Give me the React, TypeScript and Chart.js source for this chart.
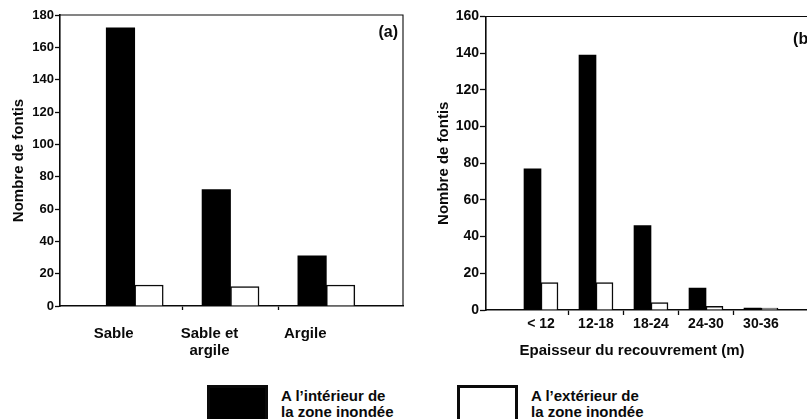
import { useEffect, useRef } from 'react';
import { Chart, registerables } from 'chart.js';

Chart.register(...registerables);

const FONT = '"Liberation Sans", Arial, Helvetica, sans-serif';
const INK = '#0a0a0a';

// ---- data ----
const LEGEND_LINES = [
  ['A l’intérieur de', 'la zone inondée'],
  ['A l’extérieur de', 'la zone inondée'],
];
const SERIES_NAMES = ['A l’intérieur de la zone inondée', 'A l’extérieur de la zone inondée'];
const SERIES_FILLS = ['#000000', '#ffffff'];

const SOIL_LABELS: (string | string[])[] = [['Sable'], ['Sable et', 'argile'], ['Argile']];
const SOIL_INSIDE = [172, 72, 31];
const SOIL_OUTSIDE = [13, 12, 13];
const SOIL_Y_TICKS = [0, 20, 40, 60, 80, 100, 120, 140, 160, 180];

const DEPTH_LABELS: (string | string[])[] = ['< 12', '12-18', '18-24', '24-30', '30-36'];
const DEPTH_INSIDE = [77, 139, 46, 12, 1];
const DEPTH_OUTSIDE = [15, 15, 4, 2, 1];
const DEPTH_Y_TICKS = [0, 20, 40, 60, 80, 100, 120, 140, 160];

const Y_TITLE = 'Nombre de fontis';
const DEPTH_X_TITLE = 'Epaisseur du recouvrement (m)';
const PANEL_TAGS = ['(a)', '(b)'];

// ---- plugin: frame (top/right), panel tag, optional caption ----
const decorPlugin = {
  id: 'decor',
  afterDraw(chart: any, _args: any, o: any) {
    const { ctx, chartArea: a } = chart;
    ctx.save();
    ctx.strokeStyle = INK;
    ctx.lineWidth = o.frameWidth;
    ctx.beginPath();
    ctx.moveTo(a.left, a.top);
    ctx.lineTo(a.right, a.top);
    ctx.lineTo(a.right, a.bottom);
    ctx.stroke();
    ctx.fillStyle = INK;
    ctx.font = `bold ${o.tagSize}px ${FONT}`;
    ctx.textAlign = 'right';
    ctx.textBaseline = 'middle';
    ctx.fillText(o.tag, a.right - o.tagInset, a.top + o.tagDrop);
    if (o.caption) {
      ctx.font = `bold 15px ${FONT}`;
      ctx.textAlign = 'center';
      ctx.fillText(o.caption, (a.left + a.right) / 2 + o.captionDx, a.bottom + o.captionDrop);
    }
    ctx.restore();
  },
};

type Spec = {
  labels: (string | string[])[];
  inside: number[];
  outside: number[];
  yTicks: number[];
  xMin: number;
  xMax: number;
  labelShift: number;
  barThickness: number;
  yTickSize: number;
  xTickSize: number;
  xTickPad: number;
  xTickLen: number;
  yTickLen: number;
  yAxisWidth: number;
  xAxisHeight: number;
  yTitlePad: number;
  padding: { top: number; right: number; bottom: number; left: number };
  tag: string;
  tagInset: number;
  tagDrop: number;
  caption?: string;
  captionDx?: number;
  captionDrop?: number;
};

function buildConfig(s: Spec): any {
  const xTicks: any[] = [];
  s.labels.forEach((lab, i) => {
    xTicks.push({ value: i + 1 + s.labelShift, text: lab, kind: 'label' });
    if (i < s.labels.length - 1) xTicks.push({ value: i + 1.5, text: '', kind: 'bound' });
  });
  xTicks.sort((p, q) => p.value - q.value);

  const barCommon = { barThickness: s.barThickness, borderSkipped: 'start' };
  return {
    type: 'bar',
    data: {
      datasets: [
        {
          label: SERIES_NAMES[0],
          data: s.inside.map((v, i) => ({ x: i + 1, y: v })),
          backgroundColor: SERIES_FILLS[0],
          borderColor: INK,
          borderWidth: 0,
          ...barCommon,
        },
        {
          label: SERIES_NAMES[1],
          data: s.outside.map((v, i) => ({ x: i + 1, y: v })),
          backgroundColor: SERIES_FILLS[1],
          borderColor: INK,
          borderWidth: 1.5,
          ...barCommon,
        },
      ],
    },
    options: {
      animation: false,
      responsive: false,
      layout: { padding: s.padding },
      plugins: {
        legend: { display: false },
        tooltip: { enabled: false },
        decor: {
          frameWidth: 1.1,
          tag: s.tag,
          tagSize: 16,
          tagInset: s.tagInset,
          tagDrop: s.tagDrop,
          caption: s.caption,
          captionDx: s.captionDx ?? 0,
          captionDrop: s.captionDrop ?? 0,
        },
      },
      scales: {
        x: {
          type: 'linear',
          min: s.xMin,
          max: s.xMax,
          offset: false,
          afterBuildTicks: (sc: any) => {
            sc.ticks = xTicks.map((t) => ({ ...t }));
          },
          afterFit: (sc: any) => {
            sc.height = s.xAxisHeight;
          },
          ticks: {
            autoSkip: false,
            maxRotation: 0,
            minRotation: 0,
            padding: s.xTickPad,
            color: INK,
            font: { family: FONT, size: s.xTickSize, weight: 'bold', lineHeight: 1.15 },
            callback: (_v: any, i: number, ticks: any[]) => ticks[i].text,
          },
          grid: {
            offset: false,
            drawOnChartArea: false,
            tickLength: s.xTickLen,
            tickWidth: 1.3,
            tickColor: (c: any) => (c.tick && c.tick.kind === 'bound' ? INK : 'rgba(0,0,0,0)'),
          },
          border: { display: true, color: INK, width: 1.6 },
        },
        y: {
          type: 'linear',
          min: s.yTicks[0],
          max: s.yTicks[s.yTicks.length - 1],
          afterBuildTicks: (sc: any) => {
            sc.ticks = s.yTicks.map((v) => ({ value: v }));
          },
          afterFit: (sc: any) => {
            sc.width = s.yAxisWidth;
          },
          ticks: {
            color: INK,
            padding: 1,
            font: { family: FONT, size: s.yTickSize, weight: 'bold' },
          },
          grid: {
            drawOnChartArea: false,
            tickLength: s.yTickLen,
            tickWidth: 1.3,
            tickColor: INK,
          },
          border: { display: true, color: INK, width: 1.6 },
          title: {
            display: true,
            text: Y_TITLE,
            color: INK,
            font: { family: FONT, size: 15, weight: 'bold' },
            padding: { top: s.yTitlePad, bottom: 0 },
          },
        },
      },
    },
    plugins: [decorPlugin],
  };
}

function Panel({ spec, left, width, height }: { spec: Spec; left: number; width: number; height: number }) {
  const ref = useRef<HTMLCanvasElement>(null);
  useEffect(() => {
    const chart = new Chart(ref.current as HTMLCanvasElement, buildConfig(spec));
    return () => chart.destroy();
  }, []);
  return (
    <canvas
      ref={ref}
      width={width}
      height={height}
      style={{ position: 'absolute', left, top: 0, width, height }}
    />
  );
}

const soilSpec: Spec = {
  labels: SOIL_LABELS,
  inside: SOIL_INSIDE,
  outside: SOIL_OUTSIDE,
  yTicks: SOIL_Y_TICKS,
  xMin: 0.22,
  xMax: 3.8,
  labelShift: -0.22,
  barThickness: 28.5,
  yTickSize: 13,
  xTickSize: 15,
  xTickPad: 15,
  xTickLen: 4,
  yTickLen: 5,
  yAxisWidth: 60,
  xAxisHeight: 74,
  yTitlePad: 10,
  padding: { top: 15, right: 17, bottom: 0, left: 0 },
  tag: PANEL_TAGS[0],
  tagInset: 5,
  tagDrop: 18,
};

const depthSpec: Spec = {
  labels: DEPTH_LABELS,
  inside: DEPTH_INSIDE,
  outside: DEPTH_OUTSIDE,
  yTicks: DEPTH_Y_TICKS,
  xMin: 0,
  xMax: 6,
  labelShift: 0,
  barThickness: 17,
  yTickSize: 14,
  xTickSize: 14,
  xTickPad: 1,
  xTickLen: 5,
  yTickLen: 6,
  yAxisWidth: 66,
  xAxisHeight: 70,
  yTitlePad: 15,
  padding: { top: 16.5, right: 24, bottom: 0, left: 0 },
  tag: PANEL_TAGS[1],
  tagInset: 2.5,
  tagDrop: 23,
  caption: DEPTH_X_TITLE,
  captionDx: -19,
  captionDrop: 41,
};

export default function App() {
  const boxLeft = [207, 457];
  const textLeft = [281, 531];
  return (
    <div
      style={{
        position: 'fixed',
        left: 0,
        top: 0,
        width: 807,
        height: 419,
        overflow: 'hidden',
        background: '#ffffff',
      }}
    >
      <Panel spec={soilSpec} left={0} width={420} height={380} />
      <Panel spec={depthSpec} left={420} width={420} height={380} />
      {LEGEND_LINES.map((lines, i) => (
        <div key={i}>
          <div
            style={{
              position: 'absolute',
              left: boxLeft[i],
              top: 385,
              width: 61,
              height: 40,
              boxSizing: 'border-box',
              background: SERIES_FILLS[i],
              border: `3px solid ${INK}`,
            }}
          />
          <div
            style={{
              position: 'absolute',
              left: textLeft[i],
              top: 388,
              font: `bold 15px ${FONT}`,
              lineHeight: '16px',
              color: INK,
              whiteSpace: 'nowrap',
            }}
          >
            {lines[0]}
            <br />
            {lines[1]}
          </div>
        </div>
      ))}
    </div>
  );
}
